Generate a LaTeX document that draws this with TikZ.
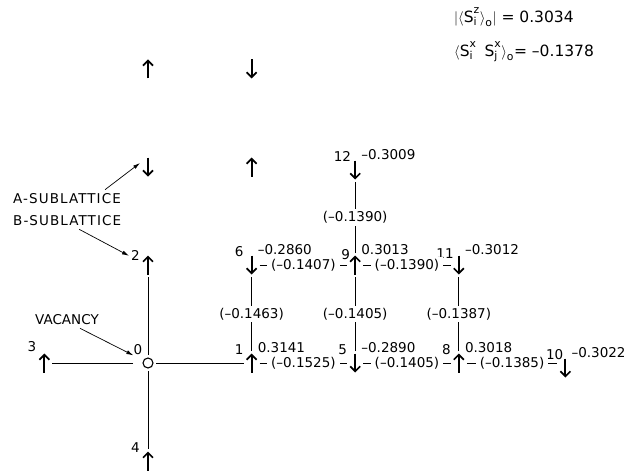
\documentclass[tikz,border=0pt]{standalone}
\usepackage{fontspec}
\setmainfont{DejaVu Sans}
\usetikzlibrary{arrows.meta,positioning,calc}

\tikzset{
  every node/.style={font=\fontsize{13.5}{16}\selectfont},
  site/.style={minimum width=16pt,minimum height=24pt,inner sep=0pt,outer sep=0pt},
  hole/.style={circle,draw,line width=1.1pt,minimum size=10pt,inner sep=0pt,outer sep=3pt},
  spin/.style={line width=2pt,-{Straight Barb[length=5pt,width=10pt,line width=1.7pt]}},
  bond/.style={line width=0.8pt},
  coup/.style={fill=white,inner xsep=4pt,inner ysep=2pt},
  num/.style={inner sep=0pt},
  val/.style={inner sep=0pt,xshift=-2pt,yshift=2pt},
  pointer/.style={line width=0.7pt,-{Latex[length=7pt,width=4pt]}},
  tag/.style={inner sep=0pt,font=\fontsize{13.5}{16}\selectfont\addfontfeature{LetterSpace=8}},
  formula/.style={inner sep=0pt,anchor=west,font=\fontsize{15.5}{18}\selectfont},
}
\newcommand{\spinup}[1]{\draw[spin] ([yshift=-9.5pt]#1.center) -- ([yshift=9.5pt]#1.center);}
\newcommand{\spindn}[1]{\draw[spin] ([yshift=9.5pt]#1.center) -- ([yshift=-9.5pt]#1.center);}

\begin{document}
\begin{tikzpicture}[x=103.6pt,y=98pt]
  \useasboundingbox (-148pt,-109pt) rectangle (494pt,363pt);

  % sitios de la red; la vacancia en el origen
  \node[hole,label={[num,name=n0,yshift=2pt]135:0}] (s0) at (0,0) {};
  \node[site,label={[num,name=n1]135:1},label={[val]45:0.3141}] (s1) at (1,0) {};
  \node[site,label={[num,name=n2,yshift=-4pt]135:2}] (s2) at (0,1) {};
  \node[site,label={[num,name=n3,yshift=3pt]135:3}] (s3) at (-1,0) {};
  \node[site,label={[num,name=n4]135:4}] (s4) at (0,-1) {};
  \node[site,label={[num,name=n5]135:5},label={[val]45:--0.2890}] (s5) at (2,0) {};
  \node[site,label={[num,name=n6]135:6},label={[val]45:--0.2860}] (s6) at (1,1) {};
  \node[site,label={[num,name=n8]135:8},label={[val]45:0.3018}] (s8) at (3,0) {};
  \node[site,label={[num,name=n9,xshift=3pt,yshift=-3pt]135:9},label={[val]45:0.3013}] (s9) at (2,1) {};
  \node[site,label={[num,name=n10,xshift=6pt]135:10},label={[val]45:--0.3022}] (s10) at ([shift={(3pt,-5pt)}]4,0) {};
  \node[site,label={[num,name=n11,xshift=3pt,yshift=-2pt]135:11},label={[val]45:--0.3012}] (s11) at (3,1) {};
  \node[site,label={[num,name=n12,xshift=4pt]135:12},label={[val]45:--0.3009}] (s12) at ([yshift=-3pt]2,2) {};
  % sitios sin numerar
  \node[site] (a02) at (0,2) {};
  \node[site] (a12) at (1,2) {};
  \node[site] (a03) at (0,3) {};
  \node[site] (a13) at (1,3) {};

  % espines
  \foreach \s in {s1,s2,s3,s4,s8,s9,a12,a03} {\spinup{\s}}
  \foreach \s in {s5,s6,s10,s11,s12,a02,a13} {\spindn{\s}}

  % enlaces desde la vacancia
  \draw[bond] ([xshift=-7pt]s0.west) -- (s3);
  \draw[bond] (s0) -- (s1);
  \draw[bond] (s0) -- (s2);
  \draw[bond] (s0) -- (s4);

  % enlaces con correlaciones
  \draw[bond] (s1) -- node[coup]{(--0.1525)} (s5);
  \draw[bond] (s5) -- node[coup]{(--0.1405)} (s8);
  \draw[bond] (s8.east) -- node[coup]{(--0.1385)} (s8.east -| s10.west);
  \draw[bond] (s6) -- node[coup]{(--0.1407)} (s9);
  \draw[bond] (s9) -- node[coup]{(--0.1390)} (s11);
  \draw[bond] (s1) -- node[coup]{(--0.1463)} (s6);
  \draw[bond] (s5) -- node[coup]{(--0.1405)} (s9);
  \draw[bond] (s8) -- node[coup]{(--0.1387)} (s11);
  \draw[bond] (s9) -- node[coup]{(--0.1390)} (s12);

  % rotulos
  \node[tag,anchor=west] (labA) at (-135pt,164pt) {A-SUBLATTICE};
  \node[tag,anchor=west] (labB) at (-135pt,142pt) {B-SUBLATTICE};
  \node[num,anchor=west] (labV) at (-113pt,43pt) {VACANCY};
  \draw[pointer] ([shift={(-16pt,4pt)}]labA.north east) -- ([yshift=4pt]a02.west);
  \draw[pointer] ([shift={(12pt,-3pt)}]labB.south) -- ([xshift=-2pt]n2.west);
  \draw[pointer] ([shift={(13pt,-3pt)}]labV.south) -- (n0.south west);

  % valores medios
  \node[formula] (magz) at (306pt,346pt)
    {$\bigl|\bigl\langle\mathrm{S}^{\mathrm{z}}_{\mathrm{i}}\bigr\rangle_{\mathrm{o}}\bigr|$ = 0.3034};
  \node[formula] (corrx) at (306pt,311pt)
    {$\bigl\langle\mathrm{S}^{\mathrm{x}}_{\mathrm{i}}\;\;\mathrm{S}^{\mathrm{x}}_{\mathrm{j}}\bigr\rangle_{\mathrm{o}}$= --0.1378};
\end{tikzpicture}
\end{document}
